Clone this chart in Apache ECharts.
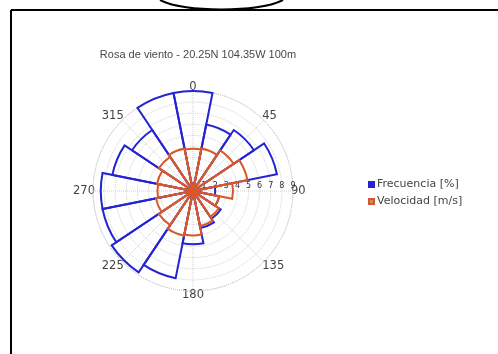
<!DOCTYPE html>
<html>
<head>
<meta charset="utf-8">
<script src="https://cdn.jsdelivr.net/npm/echarts@6/dist/echarts.min.js"></script>
<style>
  html, body { margin: 0; padding: 0; background: #fff; }
  #chart { width: 498px; height: 354px; }
</style>
</head>
<body>
<div id="chart"></div>
<script>
// Wind rose: 16 compass sectors, frequency (%) and mean speed (m/s)
const directions = ['N', 'NNE', 'NE', 'ENE', 'E', 'ESE', 'SE', 'SSE',
                    'S', 'SSW', 'SW', 'WSW', 'W', 'WNW', 'NW', 'NNW'];
const frecuencia = [9.0, 6.1, 6.6, 7.7, 2.0, 2.4, 3.0, 3.4,
                    4.8, 8.0, 8.8, 8.3, 8.3, 7.4, 6.6, 9.0];
const velocidad  = [3.8, 3.9, 4.4, 5.0, 3.6, 2.4, 2.8, 3.2,
                    4.0, 4.1, 3.7, 3.4, 3.2, 3.3, 3.7, 3.9];
const bearingTicks = [0, 45, 90, 135, 180, 225, 270, 315];
const radiusTicks = [1, 2, 3, 4, 5, 6, 7, 8, 9];

const FONT = 'DejaVu Sans';
const BLUE = '#2323d2';
const ORANGE = '#d8582c';
const center = [193, 191];
const radius = 100;

const chart = echarts.init(document.getElementById('chart'), null, { renderer: 'canvas' });

chart.setOption({
  animation: false,
  backgroundColor: '#ffffff',
  title: {
    text: 'Rosa de viento - 20.25N 104.35W 100m',
    left: 193,
    textAlign: 'center',
    top: 44,
    textStyle: { fontFamily: 'Liberation Sans', fontSize: 11, fontWeight: 'normal', color: '#484848' }
  },
  legend: {
    orient: 'vertical',
    left: 363,
    top: 174,
    itemWidth: 5,
    itemHeight: 5,
    itemGap: 6,
    icon: 'rect',
    textStyle: { fontFamily: FONT, fontSize: 11, color: '#444', padding: [0, 0, 0, -2] },
    data: [
      { name: 'Frecuencia [%]', itemStyle: { color: BLUE } },
      { name: 'Velocidad [m/s]', itemStyle: { color: '#c98a6e' } }
    ]
  },
  polar: [
    { center: center, radius: radius },
    { center: center, radius: radius }
  ],
  angleAxis: [
    {
      // compass grid: radial axis runs along the east bearing
      polarIndex: 0,
      type: 'value',
      min: 0,
      max: 360,
      interval: 45,
      startAngle: 0,
      clockwise: true,
      axisLine: { show: true, lineStyle: { color: '#c8c8c8', type: 'dotted', width: 1 } },
      axisTick: { show: false },
      axisLabel: {
        fontFamily: FONT, fontSize: 11.5, color: '#444', margin: -2,
        formatter: v => {
          if (v >= 360) return '';
          const b = (v + 90) % 360;
          return bearingTicks.indexOf(b) >= 0 ? String(b) : '';
        }
      },
      splitLine: { show: true, lineStyle: { color: '#d0d0d0', type: 'dotted', width: 1 } }
    },
    {
      polarIndex: 1,
      type: 'category',
      data: directions,
      startAngle: 101.25,
      clockwise: true,
      boundaryGap: true,
      axisLine: { show: false },
      axisTick: { show: false },
      axisLabel: { show: false },
      splitLine: { show: false }
    }
  ],
  radiusAxis: [
    {
      polarIndex: 0,
      type: 'value',
      min: 0,
      max: 9,
      interval: 1,
      axisLine: { show: false },
      axisTick: { show: false },
      axisLabel: {
        fontFamily: FONT, fontSize: 8, color: '#333', margin: 1,
        formatter: v => (radiusTicks.indexOf(v) >= 0 ? String(v) : '')
      },
      splitLine: { show: true, lineStyle: { color: '#cfcfcf', type: 'dotted', width: 1 } }
    },
    {
      polarIndex: 1,
      type: 'value',
      min: 0,
      max: 9,
      axisLine: { show: false },
      axisTick: { show: false },
      axisLabel: { show: false },
      splitLine: { show: false }
    }
  ],
  series: [
    {
      name: 'Frecuencia [%]',
      type: 'bar',
      coordinateSystem: 'polar',
      polarIndex: 1,
      data: frecuencia,
      barCategoryGap: '0%',
      barGap: '-100%',
      itemStyle: { color: 'rgba(0,0,0,0)', borderColor: BLUE, borderWidth: 2 },
      emphasis: { disabled: true }
    },
    {
      name: 'Velocidad [m/s]',
      type: 'bar',
      coordinateSystem: 'polar',
      polarIndex: 1,
      data: velocidad,
      barCategoryGap: '0%',
      barGap: '-100%',
      itemStyle: { color: 'rgba(0,0,0,0)', borderColor: ORANGE, borderWidth: 2 },
      emphasis: { disabled: true }
    }
  ],
  graphic: [
    { type: 'line', shape: { x1: 11, y1: 10, x2: 11, y2: 354 }, style: { stroke: '#000', lineWidth: 2 } },
    { type: 'line', shape: { x1: 11, y1: 10, x2: 498, y2: 10 }, style: { stroke: '#000', lineWidth: 2 } },
    {
      type: 'bezierCurve',
      shape: { x1: 160, y1: 0, cpx1: 185, cpy1: 12.5, cpx2: 258, cpy2: 12.5, x2: 283, y2: 0 },
      style: { stroke: '#000', lineWidth: 2, fill: null }
    }
  ]
});
</script>
</body>
</html>
